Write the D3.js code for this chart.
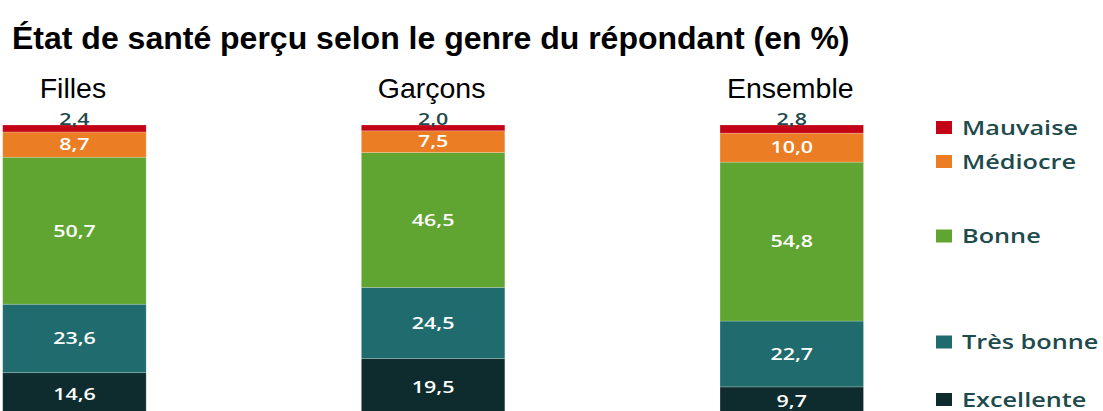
<html>
<head>
<meta charset="utf-8">
<style>
body { margin: 0; background: #fff; }
svg { display: block; }
</style>
</head>
<body>
<svg id="viz"></svg>
<script src="https://cdn.jsdelivr.net/npm/d3@7"></script>
<script>
// données (en %)
var groupes = ["Filles", "Garçons", "Ensemble"];
var niveaux = ["Excellente", "Très bonne", "Bonne", "Médiocre", "Mauvaise"];
var excellente = [14.6, 19.5, 9.7];
var tresBonne  = [23.6, 24.5, 22.7];
var bonne      = [50.7, 46.5, 54.8];
var mediocre   = [8.7, 7.5, 10.0];
var mauvaise   = [2.4, 2.0, 2.8];

var couleurs = ["#0e2c2d", "#1f6b6d", "#60a532", "#eb7e24", "#c20416"];
var texteFonce = "#1d4a4c";

var width = 1103, height = 411;
var etire = 1.3; // le graphique d'origine est étiré horizontalement

var svg = d3.select("#viz").attr("width", width).attr("height", height);

var table = groupes.map(function(g, i) {
  return {
    groupe: g,
    "Excellente": excellente[i],
    "Très bonne": tresBonne[i],
    "Bonne": bonne[i],
    "Médiocre": mediocre[i],
    "Mauvaise": mauvaise[i]
  };
});

var series = d3.stack().keys(niveaux)(table);

var x = d3.scaleBand()
  .domain(groupes)
  .range([2.7, 863.5])
  .paddingInner(0.6)
  .paddingOuter(0);

var y = d3.scaleLinear()
  .domain([0, 100])
  .range([415, 125]);

var color = d3.scaleOrdinal().domain(niveaux).range(couleurs);

var fmt = function(v) { return d3.format(".1f")(v).replace(".", ","); };

// titre
svg.append("text")
  .attr("x", 12)
  .attr("y", 49)
  .style("font-family", "'Liberation Sans', Arial, sans-serif")
  .style("font-weight", "bold")
  .style("font-size", "32px")
  .style("fill", "#000")
  .text("État de santé perçu selon le genre du répondant (en %)");

// noms des colonnes
svg.append("g").selectAll("text")
  .data(groupes)
  .enter()
  .append("text")
  .attr("x", function(d) { return x(d) + x.bandwidth() / 2 - 1.5; })
  .attr("y", 98)
  .attr("text-anchor", "middle")
  .style("font-family", "'Liberation Sans', Arial, sans-serif")
  .style("font-size", "28.5px")
  .style("fill", "#000")
  .text(function(d) { return d; });

// barres empilées
var couche = svg.append("g").selectAll("g")
  .data(series)
  .enter()
  .append("g")
  .attr("fill", function(d) { return color(d.key); });

couche.selectAll("rect")
  .data(function(d) { return d; })
  .enter()
  .append("rect")
  .attr("x", function(d) { return x(d.data.groupe); })
  .attr("y", function(d) { return y(d[1]); })
  .attr("width", x.bandwidth())
  .attr("height", function(d) { return y(d[0]) - y(d[1]); })
  .attr("stroke", "#ffffff")
  .attr("stroke-opacity", 0.25)
  .attr("stroke-width", 0.8);

// étiquettes de valeurs
var etiquettes = svg.append("g").selectAll("g")
  .data(series)
  .enter()
  .append("g");

etiquettes.selectAll("text")
  .data(function(d) { return d.map(function(p) { return {key: d.key, p: p}; }); })
  .enter()
  .append("text")
  .attr("transform", function(d) {
    var cx = x(d.p.data.groupe) + x.bandwidth() / 2;
    var cy = d.key === "Mauvaise" ? y(d.p[1]) - 0.5 : (y(d.p[0]) + y(d.p[1])) / 2 + 5.8;
    return "translate(" + cx + "," + cy + ") scale(" + etire + ",1)";
  })
  .attr("text-anchor", "middle")
  .style("font-family", "'Open Sans', sans-serif")
  .style("font-weight", 600)
  .style("font-size", "16.5px")
  .style("fill", function(d) { return d.key === "Mauvaise" ? texteFonce : "#ffffff"; })
  .text(function(d) { return fmt(d.p.data[d.key]); });

// légende
var legendeY = {"Mauvaise": 127.5, "Médiocre": 161.5, "Bonne": 236, "Très bonne": 342, "Excellente": 399.5};

var legende = svg.append("g").selectAll("g")
  .data(niveaux.slice().reverse())
  .enter()
  .append("g")
  .attr("transform", function(d) { return "translate(936," + legendeY[d] + ")"; });

legende.append("rect")
  .attr("x", 0)
  .attr("y", -6.5)
  .attr("width", 16)
  .attr("height", 13)
  .attr("fill", function(d) { return color(d); });

legende.append("text")
  .attr("transform", "translate(26,7) scale(1.33,1)")
  .style("font-family", "'Open Sans', sans-serif")
  .style("font-weight", 600)
  .style("font-size", "19px")
  .style("fill", texteFonce)
  .text(function(d) { return d; });
</script>
</body>
</html>
